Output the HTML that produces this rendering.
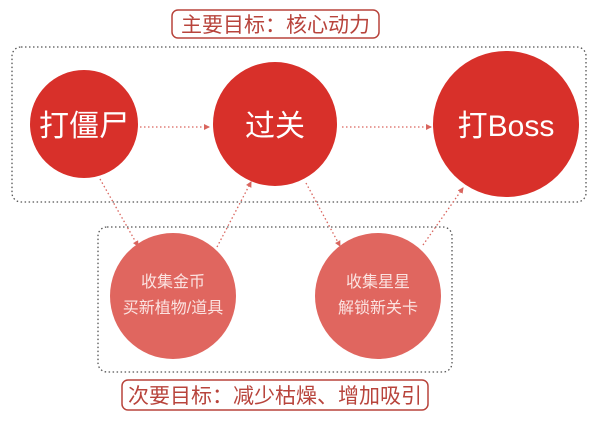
<!DOCTYPE html>
<html><head><meta charset="utf-8"><style>
html,body{margin:0;padding:0;background:#fff;}
svg{display:block;}
text{font-family:"Liberation Sans","Noto Sans CJK SC",sans-serif;}
</style></head><body>
<svg width="600" height="427" viewBox="0 0 600 427" xmlns="http://www.w3.org/2000/svg">
<defs>
<marker id="a" markerWidth="6" markerHeight="6" refX="5" refY="3" orient="auto" markerUnits="userSpaceOnUse">
<path d="M0,0 L6,3 L0,6 z" fill="#d9655e"/></marker>
</defs>
<rect x="172" y="10" width="207" height="28" rx="6" fill="#fff" stroke="#b8443c" stroke-width="1.5"/>
<text x="275.5" y="32" font-size="21" fill="#b8443c" text-anchor="middle">主要目标：核心动力</text>
<rect x="12" y="47" width="574" height="155" rx="9" fill="none" stroke="#555" stroke-width="1.3" stroke-dasharray="1.5,2.5"/>
<rect x="98" y="227" width="354" height="145" rx="9" fill="none" stroke="#555" stroke-width="1.3" stroke-dasharray="1.5,2.5"/>
<g stroke="#d9655e" stroke-width="1.3" stroke-dasharray="1.5,2.5" fill="none">
<line x1="140" y1="127" x2="209" y2="127" marker-end="url(#a)"/>
<line x1="342" y1="127" x2="431" y2="127" marker-end="url(#a)"/>
<line x1="100" y1="179" x2="138" y2="246" marker-end="url(#a)"/>
<line x1="217" y1="247" x2="251" y2="182" marker-end="url(#a)"/>
<line x1="306" y1="183" x2="340" y2="246" marker-end="url(#a)"/>
<line x1="423" y1="245" x2="463" y2="188" marker-end="url(#a)"/>
</g>
<ellipse cx="84" cy="124" rx="54" ry="54" fill="#d8302a"/>
<ellipse cx="275" cy="124" rx="62" ry="62" fill="#d8302a"/>
<ellipse cx="506" cy="124" rx="73" ry="73" fill="#d8302a"/>
<text x="84" y="136" font-size="30" fill="#fff" text-anchor="middle">打僵尸</text>
<text x="275" y="136" font-size="30" fill="#fff" text-anchor="middle">过关</text>
<text x="506" y="136" font-size="30" fill="#fff" text-anchor="middle">打Boss</text>
<circle cx="173" cy="296" r="63" fill="#e0665f"/>
<circle cx="378" cy="296" r="63" fill="#e0665f"/>
<g font-size="16" fill="#fbe3e1" text-anchor="middle">
<text x="173" y="287">收集金币</text>
<text x="173" y="313">买新植物/道具</text>
<text x="378" y="287">收集星星</text>
<text x="378" y="313">解锁新关卡</text>
</g>
<rect x="122" y="380" width="306" height="30" rx="6" fill="#fff" stroke="#b8443c" stroke-width="1.5"/>
<text x="275" y="403" font-size="21" fill="#b8443c" text-anchor="middle">次要目标：减少枯燥、增加吸引</text>
</svg>
</body></html>
